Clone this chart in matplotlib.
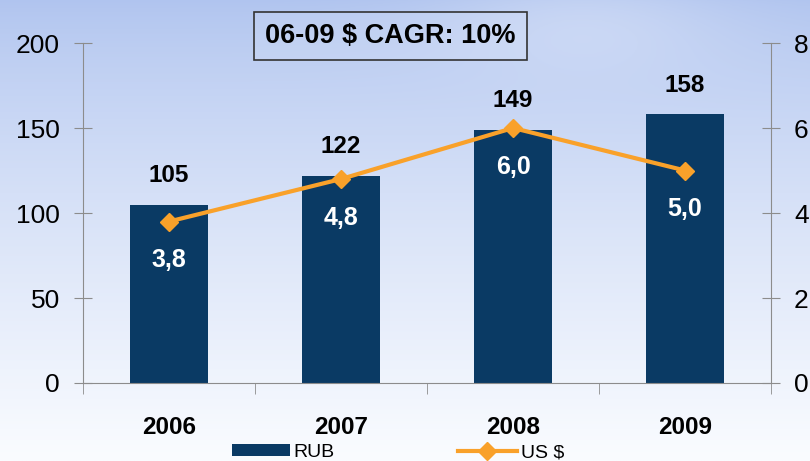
import numpy as np
import matplotlib
matplotlib.use("Agg")
import matplotlib.pyplot as plt
from matplotlib.patches import Patch
from matplotlib.lines import Line2D

plt.rcParams['font.family'] = ['Liberation Sans', 'DejaVu Sans']

years = ["2006", "2007", "2008", "2009"]
rub = [105, 122, 149, 158]
usd = [3.8, 4.8, 6.0, 5.0]
usd_labels = ["3,8", "4,8", "6,0", "5,0"]
left_ticks = [0, 50, 100, 150, 200]
right_ticks = [0, 2, 4, 6, 8]
cagr_text = "06-09 $ CAGR: 10%"

bar_color = "#0a3a64"
line_color = "#f9a12a"
axis_color = "#8c8c8c"

fig = plt.figure(figsize=(8.10, 4.61), dpi=100)

# background gradient
bg = fig.add_axes([0, 0, 1, 1], zorder=-10)
h, w = 200, 300
yy = np.linspace(0, 1, h)[:, None]
xx = np.linspace(0, 1, w)[None, :]
top = np.array([176, 196, 239]) / 255
bot = np.array([250, 252, 255]) / 255
t = np.clip(yy ** 0.8, 0, 1)
img = top[None, None, :] * (1 - t[..., None]) + bot[None, None, :] * t[..., None]
img = np.broadcast_to(img, (h, w, 3)).copy()
cloud = np.exp(-(((xx - 0.72) / 0.18) ** 2 + ((yy - 0.05) / 0.12) ** 2)) * 0.25
img = img + (1 - img) * cloud[..., None]
bg.imshow(img, aspect='auto', extent=[0, 1, 0, 1], origin='upper')
bg.axis('off')

ax = fig.add_axes([0.1025, 0.1692, 0.8495, 0.7375])
ax.patch.set_alpha(0)
x = np.arange(len(years))
ax.bar(x, rub, width=0.45, color=bar_color, zorder=2)
ax.set_xlim(-0.5, len(years) - 0.5)
ax.set_ylim(0, 200)
ax.set_yticks(left_ticks)
ax.set_xticks(x)
ax.set_xticklabels(years, fontsize=17.5, fontweight='bold')
ax.tick_params(axis='x', length=0, pad=24)
ax.set_xticks(np.arange(-0.5, len(years), 1.0), minor=True)
ax.tick_params(axis='x', which='minor', length=8, direction='out', color=axis_color)
ax.tick_params(axis='y', length=13, direction='inout', color=axis_color,
               labelsize=19, pad=10)
for s in ['top', 'right']:
    ax.spines[s].set_visible(False)
for s in ['left', 'bottom']:
    ax.spines[s].set_color(axis_color)

for xi, v in zip(x, rub):
    ax.annotate(str(v), (xi, v), xytext=(0, 21), textcoords='offset points',
                ha='center', va='center', fontsize=17.5, fontweight='bold', color='black')

ax2 = ax.twinx()
ax2.set_ylim(0, 8)
ax2.set_yticks(right_ticks)
ax2.tick_params(axis='y', length=13, direction='inout', color=axis_color,
                labelsize=19, pad=10)
for s in ['top', 'left', 'bottom']:
    ax2.spines[s].set_visible(False)
ax2.spines['right'].set_color(axis_color)
ax2.plot(x, usd, color=line_color, lw=3, marker='D', markersize=9.5, zorder=3)
for xi, v, lab in zip(x, usd, usd_labels):
    ax2.annotate(lab, (xi, v), xytext=(0, -28), textcoords='offset points',
                 ha='center', va='center', fontsize=18, fontweight='bold', color='white')

fig.text(0.482, 0.922, cagr_text, ha='center', va='center', fontsize=19.5,
         fontweight='bold',
         bbox=dict(boxstyle='square,pad=0.4', facecolor=(1, 1, 1, 0.1),
                   edgecolor='#333333', linewidth=1.2))

handles = [Patch(facecolor=bar_color, edgecolor='none'),
           Line2D([0], [0], color=line_color, lw=3, marker='D', markersize=9.5)]
fig.legend(handles, ["RUB", "US $"], loc='center', bbox_to_anchor=(0.491, 0.018),
           ncol=2, frameon=False, fontsize=14, handlelength=3.0, handleheight=0.55,
           handletextpad=0.2, columnspacing=6.35, borderpad=0)

fig.savefig("out.png", dpi=100)
